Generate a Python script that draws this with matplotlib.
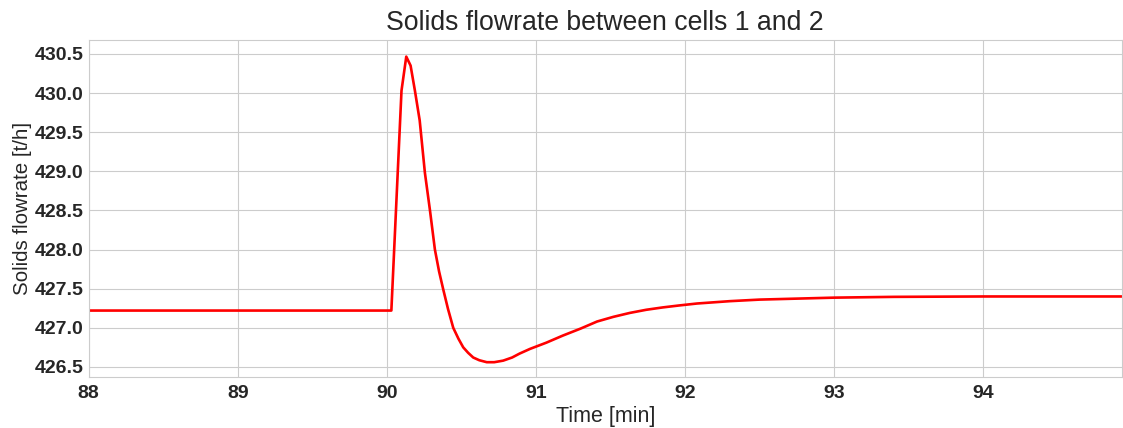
import matplotlib
matplotlib.use("Agg")
import matplotlib.pyplot as plt
import seaborn as sns

# values
time_min = [88.0, 90.03, 90.098, 90.13, 90.159, 90.188, 90.22, 90.255,
            90.289, 90.322, 90.35, 90.378, 90.41, 90.445, 90.48, 90.512,
            90.545, 90.579, 90.62, 90.67, 90.72, 90.78, 90.84, 90.89, 90.96,
            91.07, 91.18, 91.30, 91.41, 91.52, 91.63, 91.74, 91.85, 91.96,
            92.08, 92.19, 92.30, 92.5, 92.7, 93.0, 93.4, 94.0, 94.95]
flowrate = [427.22, 427.22, 430.03, 430.465, 430.35, 430.03, 429.65, 428.98,
            428.5, 428.0, 427.72, 427.49, 427.24, 427.0, 426.86, 426.75,
            426.68, 426.62, 426.585, 426.56, 426.56, 426.58, 426.62, 426.67,
            426.73, 426.81, 426.90, 426.99, 427.08, 427.14, 427.19, 427.23,
            427.26, 427.285, 427.31, 427.325, 427.34, 427.36, 427.37,
            427.385, 427.395, 427.40, 427.40]


def main():
    sns.set_style("whitegrid")
    plt.rcParams['font.family'] = ['Liberation Sans', 'DejaVu Sans']

    fig = plt.figure(figsize=(11.23, 4.28), dpi=100)
    ax = fig.add_axes([0.079, 0.119, 0.92, 0.788])
    ax.plot(time_min, flowrate, color="red", linewidth=1.9)

    ax.set_xlim(88, 94.93)
    ax.set_ylim(426.37, 430.68)
    ax.set_yticks([426.5, 427.0, 427.5, 428.0, 428.5, 429.0, 429.5, 430.0, 430.5])
    ax.set_title("Solids flowrate between cells 1 and 2", fontsize=19.2, pad=7)
    ax.set_xlabel("Time [min]", fontsize=15.5, labelpad=3)
    ax.set_ylabel("Solids flowrate [t/h]", fontsize=14.8, labelpad=2)
    for label in ax.get_xticklabels() + ax.get_yticklabels():
        label.set_fontweight("bold")
        label.set_fontsize(14)
    ax.tick_params(axis="y", pad=0.5)
    ax.tick_params(axis="x", pad=2)

    fig.savefig("out.png", dpi=100)


if __name__ == "__main__":
    main()
